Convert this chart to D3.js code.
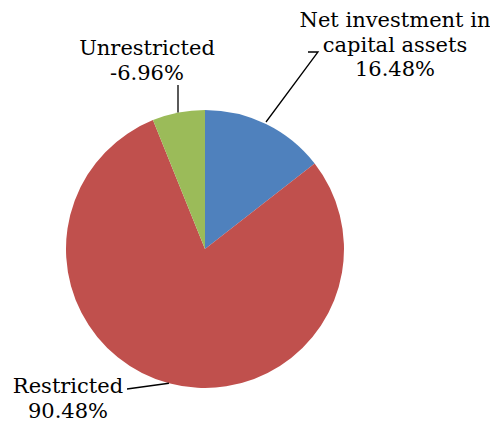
<!DOCTYPE html>
<html>
<head>
<meta charset="utf-8">
<script src="https://cdn.jsdelivr.net/npm/d3@7"></script>
<style>
  body { margin: 0; background: #fff; }
  text { font-family: "DejaVu Serif", serif; font-size: 21px; fill: #000; }
</style>
</head>
<body>
<div id="chart"></div>
<script>
// Data
const categories = ['Net investment in capital assets', 'Restricted', 'Unrestricted'];
const values = [16.48, 90.48, -6.96];
const colors = ['#4F81BD', '#C0504D', '#9BBB59'];

// Label layout (hand placed like in the original)
const labelLines = [
    ['Net investment in', 'capital assets'],
    ['Restricted'],
    ['Unrestricted']
];
const labelBoxes = [
    { x: 395, y: 27, anchor: 'middle', elbow: [[308, 52], [318, 52]] },
    { x: 68, y: 393, anchor: 'middle', elbow: [[127, 389], [127, 389]] },
    { x: 147, y: 55, anchor: 'middle', elbow: [[178, 85], [178, 85]] }
];

const width = 490;
const height = 422;
const cx = 205, cy = 249, radius = 139;
const lineH = 24.5;

const svg = d3.select('#chart')
    .append('svg')
    .attr('width', width)
    .attr('height', height);

const pie = d3.pie()
    .sort(null)
    .value(d => Math.abs(d));

const arcs = pie(values);
const arc = d3.arc().innerRadius(0).outerRadius(radius);

const g = svg.append('g')
    .attr('transform', `translate(${cx},${cy})`);

g.selectAll('path')
    .data(arcs)
    .join('path')
    .attr('d', arc)
    .attr('fill', (d, i) => colors[i]);

// Leader lines from the slice edge to the label
const edge = d3.arc().innerRadius(radius).outerRadius(radius);
const fmt = v => `${v.toFixed(2)}%`;

arcs.forEach((d, i) => {
    const box = labelBoxes[i];
    let [ex, ey] = edge.centroid(d);
    // unrestricted leader goes straight up from the slice
    if (i === 2) ex = box.elbow[0][0] - cx;
    else if (i === 0) { ex = 266 - cx; ey = 122 - cy; }
    const pts = [[ex + cx, ey + cy], box.elbow[1], box.elbow[0]];
    svg.append('path')
        .attr('d', d3.line()(pts))
        .attr('fill', 'none')
        .attr('stroke', '#000')
        .attr('stroke-width', 1.3);

    const lines = [...labelLines[i], fmt(values[i])];
    const t = svg.append('text')
        .attr('text-anchor', box.anchor);
    lines.forEach((s, k) => {
        t.append('tspan')
            .attr('x', box.x)
            .attr('y', box.y + k * lineH)
            .text(s);
    });
});
</script>
</body>
</html>
